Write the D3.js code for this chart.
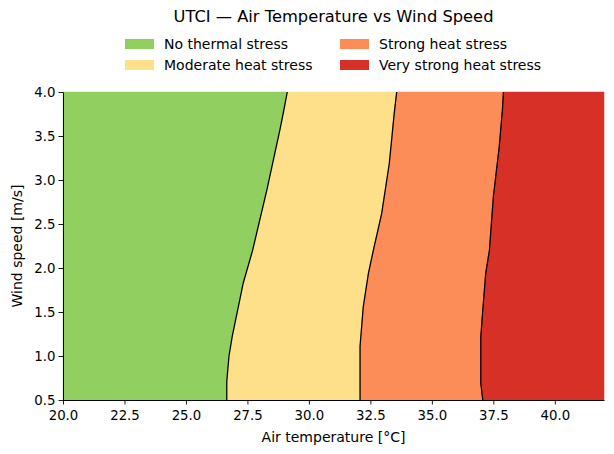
<!DOCTYPE html>
<html>
<head>
<meta charset="utf-8">
<script src="https://cdn.jsdelivr.net/npm/d3@7"></script>
<style>
  body { margin: 0; background: #fff; }
  svg { font-family: "DejaVu Sans", sans-serif; display: block; }
</style>
</head>
<body>
<div id="chart-container"></div>
<script>
// stress categories, left to right
const categories = ["No thermal stress", "Moderate heat stress", "Strong heat stress", "Very strong heat stress"];
const colors = ["#91cf60", "#fee08b", "#fc8d59", "#d73027"];

// boundary contours: [air temperature, wind speed]
const contourNoModerate = [
    [26.66, 0.5], [26.66, 0.71], [26.75, 1.0], [26.88, 1.22], [27.33, 1.83],
    [27.71, 2.20], [28.3, 2.9], [28.82, 3.57], [28.95, 3.75], [29.12, 4.0]
];
const contourModerateStrong = [
    [32.08, 0.5], [32.08, 1.11], [32.21, 1.56], [32.42, 1.94], [32.62, 2.20],
    [32.96, 2.62], [33.27, 3.19], [33.47, 3.76], [33.57, 4.0]
];
const contourStrongVery = [
    [37.07, 0.5], [36.99, 0.69], [36.99, 1.22], [37.07, 1.52], [37.19, 1.94],
    [37.34, 2.20], [37.50, 2.81], [37.74, 3.38], [37.87, 3.80], [37.91, 4.0]
];

const xDomain = [20, 42];
const yDomain = [0.5, 4.0];
const xTicks = [20.0, 22.5, 25.0, 27.5, 30.0, 32.5, 35.0, 37.5, 40.0];
const yTicks = [0.5, 1.0, 1.5, 2.0, 2.5, 3.0, 3.5, 4.0];

const svgWidth = 614;
const svgHeight = 454;
const margin = { top: 92, right: 10, bottom: 54, left: 63 };
const width = svgWidth - margin.left - margin.right;
const height = svgHeight - margin.top - margin.bottom;

const svg = d3.select("#chart-container")
    .append("svg")
    .attr("width", svgWidth)
    .attr("height", svgHeight);

const chart = svg.append("g")
    .attr("transform", `translate(${margin.left},${margin.top})`);

const scaleX = d3.scaleLinear().domain(xDomain).range([0, width]);
const scaleY = d3.scaleLinear().domain(yDomain).range([height, 0]);

const line = d3.line()
    .x(d => scaleX(d[0]))
    .y(d => scaleY(d[1]));

// region edges: plot edges plus the contours
const leftEdge = [[xDomain[0], yDomain[0]], [xDomain[0], yDomain[1]]];
const rightEdge = [[xDomain[1], yDomain[0]], [xDomain[1], yDomain[1]]];
const edges = [leftEdge, contourNoModerate, contourModerateStrong, contourStrongVery, rightEdge];

categories.forEach(function(c, i) {
    const poly = edges[i].concat(edges[i + 1].slice().reverse());
    chart.append("path")
        .attr("d", line(poly) + "Z")
        .attr("fill", colors[i])
        .attr("stroke", colors[i])
        .attr("stroke-width", 0.5);
});

[contourNoModerate, contourModerateStrong, contourStrongVery].forEach(function(c) {
    chart.append("path")
        .attr("d", line(c))
        .attr("fill", "none")
        .attr("stroke", "#000")
        .attr("stroke-width", 1.3);
});

const xAxis = chart.append("g")
    .attr("transform", `translate(0,${height})`)
    .call(d3.axisBottom(scaleX).tickValues(xTicks).tickFormat(d3.format(".1f")).tickSize(4.5).tickSizeOuter(0));

const yAxis = chart.append("g")
    .call(d3.axisLeft(scaleY).tickValues(yTicks).tickFormat(d3.format(".1f")).tickSize(4.5).tickSizeOuter(0));

[xAxis, yAxis].forEach(function(a) {
    a.selectAll("text").attr("font-size", "13.3px").attr("fill", "#000")
        .attr("font-family", "DejaVu Sans, sans-serif");
    a.selectAll("line").attr("stroke", "#000").attr("stroke-width", 0.9);
    a.select(".domain").attr("stroke", "#000").attr("stroke-width", 1);
});
xAxis.selectAll("text").attr("dy", "0.95em");

chart.append("text")
    .attr("x", width / 2)
    .attr("y", height + 42)
    .attr("text-anchor", "middle")
    .attr("font-size", "14px")
    .text("Air temperature [°C]");

chart.append("text")
    .attr("transform", "rotate(-90)")
    .attr("x", -(height / 2))
    .attr("y", -41)
    .attr("text-anchor", "middle")
    .attr("font-size", "14px")
    .text("Wind speed [m/s]");

svg.append("text")
    .attr("x", margin.left + width / 2)
    .attr("y", 22)
    .attr("text-anchor", "middle")
    .attr("font-size", "16.3px")
    .text("UTCI — Air Temperature vs Wind Speed");

// legend, two columns
const legendCols = [125, 340];
const legendRows = [44, 65];
categories.forEach(function(c, i) {
    const col = Math.floor(i / 2);
    const row = i % 2;
    const g = svg.append("g")
        .attr("transform", `translate(${legendCols[col]},${legendRows[row]})`);
    g.append("rect")
        .attr("x", 0)
        .attr("y", -5)
        .attr("width", 29)
        .attr("height", 10)
        .attr("fill", colors[i]);
    g.append("text")
        .attr("x", 39)
        .attr("y", 0)
        .attr("dy", "0.35em")
        .attr("font-size", "14px")
        .text(c);
});
</script>
</body>
</html>
